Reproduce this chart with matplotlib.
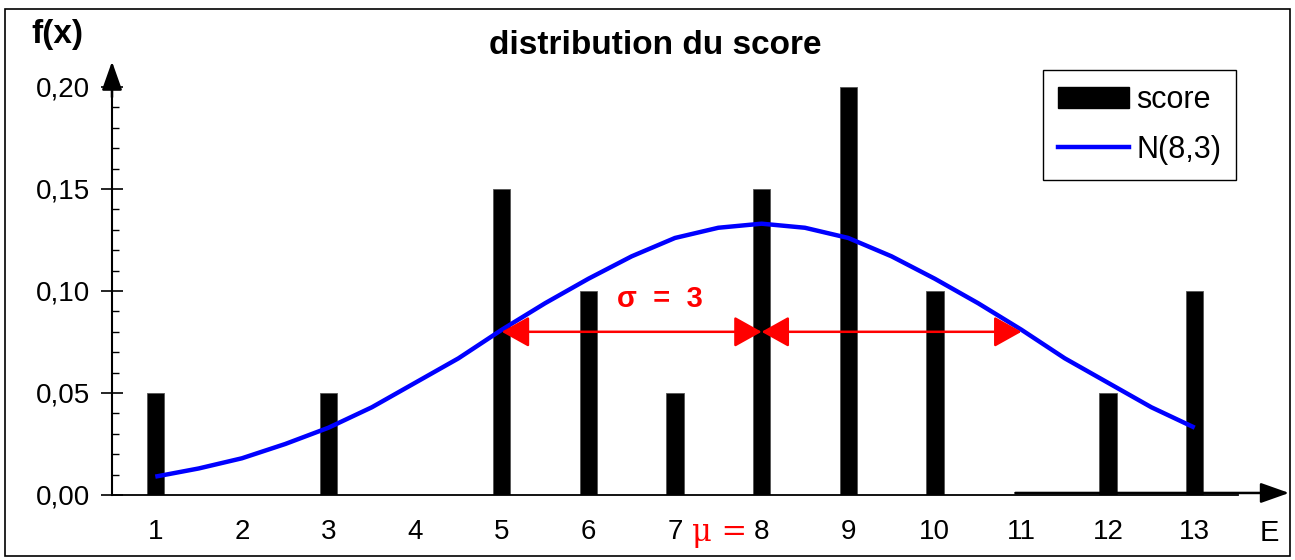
import matplotlib
matplotlib.use("Agg")
import matplotlib.pyplot as plt
from matplotlib.patches import Patch, Rectangle
from matplotlib.lines import Line2D

plt.rcParams['font.family'] = ['Liberation Sans', 'DejaVu Sans']

# Data
categories = [1, 2, 3, 4, 5, 6, 7, 8, 9, 10, 11, 12, 13]
score = [0.05, 0.00, 0.05, 0.00, 0.15, 0.10, 0.05, 0.15, 0.20, 0.10, 0.00, 0.05, 0.10]
curve_x = [1, 1.5, 2, 2.5, 3, 3.5, 4, 4.5, 5, 5.5, 6, 6.5, 7, 7.5, 8,
           8.5, 9, 9.5, 10, 10.5, 11, 11.5, 12, 12.5, 13]
curve_y = [0.009, 0.013, 0.018, 0.025, 0.033, 0.043, 0.055, 0.067, 0.081, 0.094,
           0.106, 0.117, 0.126, 0.131, 0.133, 0.131, 0.126, 0.117, 0.106, 0.094,
           0.081, 0.067, 0.055, 0.043, 0.033]
yticks = [0.00, 0.05, 0.10, 0.15, 0.20]
ytick_labels = ["0,00", "0,05", "0,10", "0,15", "0,20"]
mu = 8
sigma = 3
arrow_y = 0.08

W, H = 1295, 560
fig = plt.figure(figsize=(W / 100, H / 100), dpi=100)
ax = fig.add_axes([112 / W, 1 - 495 / H, (1238 - 112) / W, (495 - 87) / H])

ax.bar(categories, score, width=0.2, color='black', edgecolor='#555555', linewidth=0.6, zorder=2)
ax.plot(curve_x, curve_y, color='#0000ff', lw=3.2, zorder=3, solid_capstyle='butt')

ax.set_xlim(0.5, 13.5)
ax.set_ylim(0, 0.20)
ax.set_xticks(categories)
ax.set_xticklabels([str(c) for c in categories], fontsize=20)
ax.tick_params(axis='x', length=0, pad=17)
ax.set_yticks(yticks)
ax.set_yticklabels(ytick_labels, fontsize=20)
ax.set_yticks([v / 100 for v in range(0, 21) if v % 5 != 0], minor=True)
ax.tick_params(axis='y', which='major', direction='inout', length=16, width=1.2, pad=8)
ax.tick_params(axis='y', which='minor', direction='in', length=5, width=1.0)
for s in ['top', 'right']:
    ax.spines[s].set_visible(False)
ax.spines['left'].set_linewidth(1.5)
ax.spines['bottom'].set_linewidth(1.3)

# y-axis arrow
ax.annotate('', xy=(0.5, 0.2125), xytext=(0.5, 0.195), xycoords='data',
            annotation_clip=False,
            arrowprops=dict(arrowstyle='-|>,head_length=1.75,head_width=0.62',
                            color='black', lw=1.8, shrinkA=0, shrinkB=0))
# x-axis arrow
ax.annotate('', xy=(14.09, 0.001), xytext=(10.93, 0.001), xycoords='data',
            annotation_clip=False,
            arrowprops=dict(arrowstyle='-|>,head_length=1.75,head_width=0.62',
                            color='black', lw=1.8, shrinkA=0, shrinkB=0))

# sigma arrows
for a, b in [(mu - sigma, mu), (mu, mu + sigma)]:
    ax.annotate('', xy=(b, arrow_y), xytext=(a, arrow_y),
                arrowprops=dict(arrowstyle='<|-|>,head_length=1.7,head_width=0.95',
                                color='#ff0000', lw=1.8, shrinkA=0, shrinkB=0), zorder=4)

ax.text(6.82, 0.0962, 'σ  =  3', color='#ff0000', fontsize=21, fontweight='bold',
        ha='center', va='center', zorder=5)

# mu label next to tick 8
fig.text(720 / W, 1 - 533 / H, 'μ =', color='#ff0000', fontsize=22,
         ha='center', va='center', family=['DejaVu Serif'])

fig.text(655 / W, 1 - 45 / H, 'distribution du score', fontsize=24, fontweight='bold',
         ha='center', va='center')
fig.text(57 / W, 1 - 35 / H, 'f(x)', fontsize=24, fontweight='bold', ha='center', va='center')
fig.text(1269 / W, 1 - 533 / H, 'E', fontsize=21, ha='center', va='center')

handles = [Patch(facecolor='black', edgecolor='black', label='score'),
           Line2D([0], [0], color='#0000ff', lw=3.2, label='N(8,3)')]
leg = fig.legend(handles=handles, loc='upper left', bbox_to_anchor=(1043 / W, 1 - 70 / H),
                 fontsize=22, frameon=True, fancybox=False, edgecolor='black',
                 framealpha=1, handlelength=2.3, handletextpad=0.25, borderpad=0.5,
                 labelspacing=0.65, borderaxespad=0)
leg.get_frame().set_linewidth(1.0)

fig.patches.append(Rectangle((5 / W, 4 / H), (1290 - 5) / W, (551 - 4) / H,
                             transform=fig.transFigure, fill=False, edgecolor='black', lw=1.2))

fig.savefig('out.png', dpi=100)
